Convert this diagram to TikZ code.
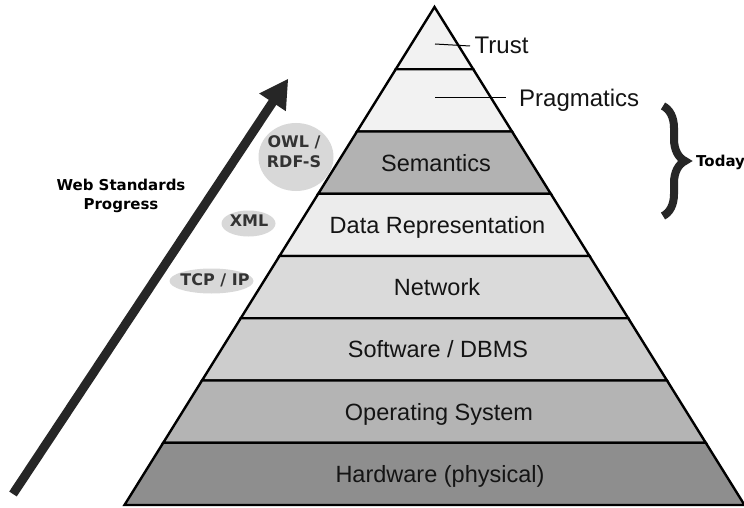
\documentclass[tikz,border=0pt]{standalone}
\usepackage{fontspec}
\setmainfont{Liberation Sans}
\newfontfamily\djv{DejaVu Sans}
\usetikzlibrary{decorations.pathreplacing,calc}
\definecolor{cTop}{HTML}{F2F2F2}
\definecolor{cSem}{HTML}{B2B2B2}
\definecolor{cData}{HTML}{ECECEC}
\definecolor{cNet}{HTML}{DADADA}
\definecolor{cSoft}{HTML}{CDCDCD}
\definecolor{cOS}{HTML}{B4B4B4}
\definecolor{cHW}{HTML}{8E8E8E}
\definecolor{cBubble}{HTML}{D8D8D8}
\definecolor{cBubbleText}{HTML}{333333}
\definecolor{cArrow}{HTML}{262626}
\newcommand\pyrband[3]{%
  \filldraw[band,fill=#3]
    ({434.5-0.6225*(#1-7)},#1) -- ({434.5+0.6225*(#1-7)},#1) --
    ({434.5+0.6225*(#2-7)},#2) -- ({434.5-0.6225*(#2-7)},#2) -- cycle;}
\begin{document}
\begin{tikzpicture}[x=1pt,y=-1pt,
  band/.style={draw=black,line width=2.4pt,line join=miter},
  bandlabel/.style={font=\fontsize{23.5}{28}\selectfont,text=black!92,inner sep=0pt,
    text height=17pt,text depth=0pt},
  sidelabel/.style={font=\fontsize{24}{28}\selectfont,text=black!92,inner sep=0pt,anchor=west,
    text height=17pt,text depth=0pt},
  leader/.style={draw=black,line width=1pt},
  bubbletext/.style={font=\djv\bfseries\fontsize{16}{20}\selectfont,text=cBubbleText,
    inner sep=0pt,align=center},
  boldnote/.style={font=\djv\bfseries\fontsize{15}{19}\selectfont,text=black,inner sep=0pt,align=center},
  arrowline/.style={draw=cArrow,line width=9pt,line cap=butt},
]
\fill[white] (0,0) rectangle (744,508);
\useasboundingbox (0,0) rectangle (744,508);

% bubbles (behind the pyramid)
\fill[cBubble] (296,157) ellipse [x radius=37.5, y radius=34];
\fill[cBubble] (248.5,223.5) ellipse [x radius=27, y radius=13];
\fill[cBubble] (211.5,281) ellipse [x radius=42, y radius=12.5];

% pyramid bands
\pyrband{7}{69.25}{cTop}
\pyrband{69.25}{131.5}{cTop}
\pyrband{131.5}{193.75}{cSem}
\pyrband{193.75}{256}{cData}
\pyrband{256}{318.25}{cNet}
\pyrband{318.25}{380.5}{cSoft}
\pyrband{380.5}{442.75}{cOS}
\pyrband{442.75}{505}{cHW}

% band labels
\node[bandlabel] (sem)  at (436,162.6) {Semantics};
\node[bandlabel] (data) at (437.5,224.9) {Data Representation};
\node[bandlabel] (net)  at (437,287.1) {Network};
\node[bandlabel] (soft) at (438,349.4) {Software / DBMS};
\node[bandlabel] (os)   at (439,411.6) {Operating System};
\node[bandlabel] (hw)   at (440,473.9) {Hardware (physical)};

% top labels with leader lines
\node[sidelabel] (trust) at (474.5,45) {Trust};
\node[sidelabel] (prag)  at (519,98) {Pragmatics};
\coordinate (trustpt) at (435,44);
\coordinate (pragpt)  at (435,98);
\draw[leader] (trustpt) -- ([xshift=-4.5pt,yshift=-1pt]trust.west);
\draw[leader] (pragpt) -- ([xshift=-13pt]prag.west);

% brace and Today
\coordinate (bracetop) at (663,106);
\coordinate (bracebot) at (663,216);
\draw[draw=cArrow,line width=8pt,decorate,decoration={brace,amplitude=22pt,aspect=0.5}]
  (bracetop) -- (bracebot);
\node[boldnote,anchor=west] (today) at (696,162.5) {Today};

% bubble texts
\node[bubbletext] (owl) at (294,151.5) {OWL /\\RDF-S};
\node[bubbletext] (xml) at (249,220.5) {XML};
\node[bubbletext] (tcp) at (215,280.5) {TCP / IP};

% Web standards note
\node[boldnote] (web) at (121,196) {Web Standards\\Progress};

% progress arrow
\coordinate (atail) at (13,494);
\coordinate (atip) at (288,79);
\coordinate (hb) at ($(atip)!28pt!(atail)$);
\coordinate (hl) at ($(hb)!16pt!90:(atip)$);
\coordinate (hr) at ($(hb)!16pt!-90:(atip)$);
\draw[arrowline] (atail) -- ($(atip)!25pt!(atail)$);
\fill[cArrow] (atip) -- (hl) -- (hr) -- cycle;
\end{tikzpicture}
\end{document}
